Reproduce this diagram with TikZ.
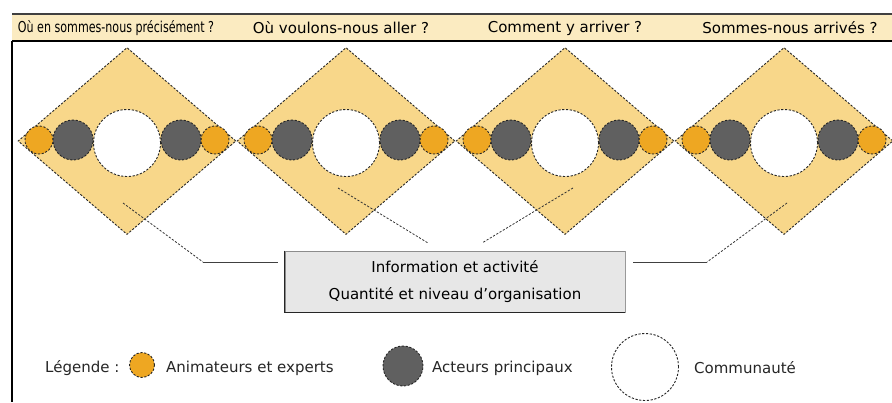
\documentclass[tikz,border=0pt]{standalone}
\usepackage{fontspec}
\setmainfont{DejaVu Sans}
\usetikzlibrary{shapes.geometric}
\definecolor{bandeau}{HTML}{FBEBC1}
\definecolor{losangefill}{HTML}{F8D78A}
\definecolor{animcol}{HTML}{EEA722}
\definecolor{acteurcol}{HTML}{606060}
\definecolor{boitefill}{HTML}{E7E7E7}
\tikzset{
  pointille/.style={dash pattern=on 2.2pt off 1.6pt, line width=0.9pt, draw=black!85},
  losange/.style={diamond, pointille, fill=losangefill, inner sep=0pt,
                  minimum width=218pt, minimum height=187pt},
  anim/.style={circle, pointille, fill=animcol, inner sep=0pt, minimum size=28pt},
  acteur/.style={circle, pointille, fill=acteurcol, inner sep=0pt, minimum size=40pt},
  commu/.style={circle, pointille, fill=white, inner sep=0pt, minimum size=67pt},
  titre/.style={font=\fontsize{15pt}{17pt}\selectfont, text=black, inner sep=0pt},
  legende/.style={font=\fontsize{15pt}{17pt}\selectfont, text=black!85, anchor=west, inner sep=0pt},
  boite/.style={fill=boitefill, draw=black!45, line width=1pt, align=center,
                minimum width=340pt, minimum height=61pt, inner sep=0pt,
                font=\fontsize{15pt}{27pt}\selectfont},
  lien/.style={dash pattern=on 2.2pt off 1.6pt, line width=0.8pt, draw=black!80},
  trait/.style={line width=0.7pt, draw=black!75}
}
\begin{document}
\begin{tikzpicture}[x=1pt,y=-1pt]
  \useasboundingbox (0,0) rectangle (892,402);
  \fill[white] (0,0) rectangle (892,402);

  % header band and left frame
  \fill[bandeau] (12,14) rectangle (892,41);
  \draw[line width=2pt, black!75] (12,14) -- (892,14);
  \draw[line width=1.6pt, black] (12,41) -- (892,41);
  \draw[line width=1.8pt, black] (12,41) -- (12,402);

  \node[titre] (t1) at (116,28) {\scalebox{0.74}[1]{Où en sommes-nous précisément ?}};
  \node[titre] (t2) at (341,28) {Où voulons-nous aller ?};
  \node[titre] (t3) at (565,28) {Comment y arriver ?};
  \node[titre] (t4) at (790,28) {Sommes-nous arrivés ?};

  % four stages: diamond with facilitators, key actors and community
  \foreach \i/\cx in {1/127, 2/346, 3/565, 4/784} {
    \node[losange] (d\i) at (\cx,141) {};
    \node[anim]   (al\i) at (\cx-88,140) {};
    \node[anim]   (ar\i) at (\cx+88,140) {};
    \node[acteur] (pl\i) at (\cx-54,140) {};
    \node[acteur] (pr\i) at (\cx+54,140) {};
    \node[commu]  (c\i)  at (\cx,143) {};
  }

  % central box
  \node[boite] (box) at (455,281.5) {Information et activité\\Quantité et niveau d'organisation};
  \draw[line width=1.6pt, black!85] (box.north west) -- (box.south west) -- (box.south east);
  \draw[line width=1.6pt, black!40] (box.south east) -- (box.north east);

  % connectors
  \coordinate (s1) at (123,203);
  \coordinate (k1) at (203,262);
  \coordinate (s2) at (338,188);
  \coordinate (k2) at (428,243);
  \coordinate (s3) at (573,188);
  \coordinate (k3) at (482,243);
  \coordinate (s4) at (787,203);
  \coordinate (k4) at (707,262);
  \draw[lien] (s1) -- (k1);
  \draw[trait, shorten >=7pt] (k1) -- (box.west |- k1);
  \draw[lien] (s2) -- (k2);
  \draw[lien] (s3) -- (k3);
  \draw[lien] (s4) -- (k4);
  \draw[trait, shorten >=7pt] (k4) -- (box.east |- k4);

  % legend
  \node[legende] (lg) at (45,368) {Légende :};
  \node[anim, minimum size=25pt] (la) at (142,365) {};
  \node[legende] (lat) at (166,368) {Animateurs et experts};
  \node[acteur] (lp) at (403,366) {};
  \node[legende] (lpt) at (432,368) {Acteurs principaux};
  \node[commu] (lc) at (645,367) {};
  \node[legende] (lct) at (694,368) {Communauté};
\end{tikzpicture}
\end{document}
